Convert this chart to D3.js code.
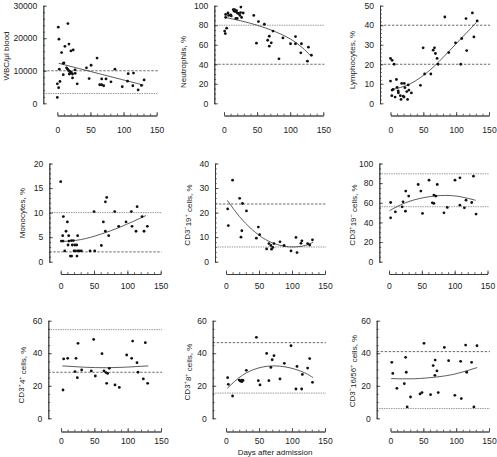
<!DOCTYPE html>
<html><head><meta charset="utf-8">
<script src="https://cdn.jsdelivr.net/npm/d3@7"></script>
<style>
body{margin:0;background:#fff}
svg text{font-family:"Liberation Sans",Arial,Helvetica,sans-serif;fill:#222}
</style>
</head><body>
<svg id="c" width="497" height="457"></svg>
<script>
// ---------- DATA ----------
const xDomain = [0, 150];
const xTicks = [0, 50, 100, 150];
const xMinorStep = 10;
const xLabel = "Days after admission";

// 1. WBC
const wbcPoints = [[1.5,23400],[2.5,19700],[16,24500],[6.5,15600],[11.5,17500],[17.6,18200],[20.6,16100],[24,16400],[9,12300],[10,12400],[3,10500],[14,10900],[15.6,10500],[17,10100],[19,9800],[20,9200],[18,9000],[9,8800],[21,9500],[23,9000],[26.7,10300],[27,9200],[23,7800],[30,6000],[4,6700],[0,6000],[2,4800],[0,1800],[44,10900],[51,11700],[48,7600],[60,13900],[67,7500],[64,5700],[67,5700],[70,5400],[73.5,7500],[81,6600],[87,10500],[98,5100],[106,6800],[107,9100],[115,9300],[114,5400],[122,4100],[127,5500],[131,7200]];
const wbcFit = [[2,12300],[65,9000],[130,5600]];
const wbcRef = [10000, 3000];
const wbcTicks = [0, 10000, 20000, 30000];

// 2. Neutrophils
const neuPoints = [[2.5,91],[2.5,88],[6,92.5],[7,90],[10,90.5],[11,89.5],[14,96],[15,94.5],[16,96],[17,94],[19,95],[18,87],[20,87],[20,92.5],[22,92],[24,90],[25.5,98.6],[26.6,88],[29,92.5],[25,93],[1,74],[2,71.4],[4,77],[45,90],[49,61.6],[52,83.7],[61,81],[66,64.6],[68.4,68.7],[68.4,58.5],[71.4,62],[74,74],[83,45.6],[89,67],[100.5,61],[108,68.4],[108,61],[117,61],[116,51.7],[127.5,57.5],[126,43.2],[132,49.3]];
const neuFit = [[2,88],[50,80],[100,66],[132,48]];
const neuRef = [80, 40];
const neuTicks = [0, 20, 40, 60, 80, 100];

// 3. Lymphocytes
const lymPoints = [[0,23],[2.5,22],[5.6,20],[0,11.4],[2.5,6.8],[4,7.1],[2,3.9],[7,3.2],[9,12.2],[10,8.2],[11.7,6.3],[12,5.4],[15,3.9],[16,2],[17,10.2],[19.5,3.6],[20.6,3.2],[21,10.2],[22,8],[24.8,6],[26,2],[27,9.4],[28,6.8],[31.8,5.3],[45.6,9.2],[49.7,28.4],[52,15],[61.4,15],[65,27.2],[67,28.4],[68.4,25.5],[71,23],[72.5,20],[82.7,44.2],[88.7,26],[99,31],[107,20],[108.5,33.2],[115,43.4],[116,27],[124.7,46.3],[127,34],[132,42.2]];
const lymFit = [[2,7],[30,10],[60,17],[90,27],[131,41.5]];
const lymRef = [40, 20];
const lymTicks = [0, 10, 20, 30, 40, 50];

// 4. Monocytes
const monPoints = [[0,16.3],[1,4.2],[3.5,4.2],[3,5.3],[4,9.2],[6,2.2],[8,6.2],[10,8.1],[11,3.4],[12,5.3],[12.4,4.2],[14.5,1.15],[16.4,1.15],[16,4.3],[17.4,3.4],[19,4.3],[20,2.2],[21,3.4],[22.4,2.2],[24,3.4],[24.4,1.15],[26,2.2],[25.4,5.3],[28.4,2.2],[31,2.2],[44,2.2],[51,2.2],[50,10.2],[61,3.3],[64,8.1],[67,12.2],[69,13.1],[67,6.2],[72,5.3],[81,10.2],[87,7.2],[98,8.1],[106,10.2],[107,7.2],[113,6.2],[114.6,11.2],[122,9.2],[125,6.2],[130,7.2]];
const monFit = [[1,4.1],[30,4.5],[60,5.6],[90,7.1],[128,9.4]];
const monRef = [10, 2];
const monTicks = [0, 5, 10, 15, 20];

// 5. CD3-19+
const b19Points = [[2.5,21.5],[3.5,14.7],[10,33.2],[20.7,25.8],[25,23.7],[24,12.6],[22.7,10],[31,20.7],[46,9.6],[49,14.1],[51,11],[61.6,5.2],[65,7.4],[68,6.6],[69,5.1],[71,5.8],[72.7,7.4],[81.8,8.1],[88,6.6],[98.5,4.4],[106,9.9],[107.6,3.7],[113.6,7.5],[115,8.5],[123.7,7.4],[126.8,6.8],[131,8.9]];
const b19Fit = [[2,25],[20,18.5],[40,13],[60,9],[80,6.8],[100,6],[120,6.6],[132,8]];
const b19Ref = [23.5, 6];
const b19Ticks = [0, 10, 20, 30, 40];

// 6. CD3+19-
const t3Points = [[2.5,60.3],[2.5,44.7],[9.7,50.8],[20,55.9],[21.4,61],[25,51.5],[25.5,71.9],[30,66.8],[44.4,78.6],[48.5,71.9],[51,49.2],[61,83],[66,60],[68.4,59.3],[68.4,67.8],[71.4,66.8],[73.5,78.6],[83.7,49.8],[88.8,55.3],[100.5,83],[108,85.4],[108,57.6],[114.8,54.9],[117.3,62.7],[126,60.3],[128.6,87.1],[132.6,48.5]];
const t3Fit = [[1,52],[25,60],[55,65.5],[85,67.5],[110,66],[132,62.5]];
const t3Ref = [89.5, 56];
const t3Ticks = [0, 20, 40, 60, 80, 100];

// 7. CD3+4+
const t4Points = [[3,17.4],[4,36.5],[10,36.9],[21,28.7],[22.5,36.9],[24.5,25],[25.5,46.1],[31,29.7],[45.5,29.1],[49,48.5],[51.5,26],[61.5,39.7],[64.5,29.1],[67.5,28.1],[68.5,21.5],[70,27.6],[72.5,30.7],[81,20.5],[87.5,19],[98.5,38.9],[106,36.9],[107.5,47.5],[114,34.2],[115.5,28.3],[123.5,24.2],[126.5,46.5],[130,21.5]];
const t4Fit = [[2,32.2],[35,31.4],[68,31.1],[100,31.5],[131,32.2]];
const t4Ref = [54.5, 28.3];
const t4Ticks = [0, 20, 40, 60];

// 8. CD3+8+
const t8Points = [[2.5,25],[3.5,20.9],[10,13.7],[20,23.5],[21.7,22.9],[23.7,23.5],[24,22.5],[25.8,23.3],[30.8,29.5],[46,49.8],[49,23.1],[51.5,20.5],[61.6,39.9],[65,23.1],[68,31.3],[70,36],[72.7,38.5],[81.8,24.2],[88.4,33.8],[98.5,44.6],[106,18],[107.6,31.9],[114.6,18],[115.7,27],[123.7,30.9],[126.8,36.7],[131,22.1]];
const t8Fit = [[2,18.5],[25,26.5],[50,31],[75,32.2],[100,30.7],[120,27.8],[132,25]];
const t8Ref = [46.5, 15.5];
const t8Ticks = [0, 20, 40, 60];

// 9. CD3-16/56+
const nkPoints = [[2,34.4],[3.5,27.6],[9.7,18.4],[21,21.3],[23,37.5],[24,28.3],[25.4,7],[30.5,13.1],[45,15],[48,15.8],[51,46.1],[61,14.5],[65,32.4],[68,35.8],[67.6,26.4],[70.7,29.1],[72.7,15.8],[82,43.6],[88.5,35.4],[98,14.1],[106.8,35],[107.8,12.1],[114.4,45],[116,28.3],[123.5,34.4],[127,7],[131.7,44.6]];
const nkFit = [[1,24.4],[35,24.3],[70,25.4],[100,27.4],[132,31.2]];
const nkRef = [41, 6];
const nkTicks = [0, 20, 40, 60];

// titles: segments [text, isSuperscript]
const titles = [
  [["WBC/μl blood",0]],
  [["Neutrophils, %",0]],
  [["Lymphocytes, %",0]],
  [["Monocytes, %",0]],
  [["CD3",0],["−",1],["19",0],["+",1],[" cells, %",0]],
  [["CD3",0],["+",1],["19",0],["−",1],[" cells, %",0]],
  [["CD3",0],["+",1],["4",0],["+",1],[" cells, %",0]],
  [["CD3",0],["+",1],["8",0],["+",1],[" cells, %",0]],
  [["CD3",0],["−",1],["16/56",0],["+",1],[" cells, %",0]]
];
const yMinorSteps = [2000, 5, 2, 1, 2, 5, 5, 5, 5];

// ---------- LAYOUT (positions) ----------
const layout = [
  {yx:43.3, x0:57.3, x1:156.7, yTop:5.7, yBot:103.3, xAxisY:115.5, xl:14, tx:6.5, ty:56, rs:["dash","dot"]},
  {yx:214.3, x0:224, x1:323.3, yTop:5.7, yBot:103.3, xAxisY:115.5, xl:14, tx:183, ty:62, rs:["dot","dash"]},
  {yx:380, x0:390.5, x1:489, yTop:5.7, yBot:103.3, xAxisY:115.5, xl:14, tx:351.7, ty:60, rs:["dash","dash"]},
  {yx:49.3, x0:60.7, x1:160.7, yTop:163.5, yBot:261.7, xAxisY:274, xl:12, tx:21.7, ty:213, rs:["dot","dash"]},
  {yx:215, x0:226, x1:325, yTop:163.5, yBot:261.7, xAxisY:274, xl:12, tx:186.7, ty:215, rs:["dash","dot"]},
  {yx:379.3, x0:389, x1:487.5, yTop:163.5, yBot:261.7, xAxisY:274, xl:12, tx:351.7, ty:215, rs:["dot","dot"]},
  {yx:48.3, x0:61, x1:161, yTop:320.7, yBot:418.3, xAxisY:431.5, xl:9.5, tx:20.7, ty:375, rs:["dot","dash"]},
  {yx:212.7, x0:226, x1:325, yTop:320.7, yBot:418.3, xAxisY:431.5, xl:9.5, tx:186.7, ty:372, rs:["dash","dot"]},
  {yx:376.7, x0:390.5, x1:489, yTop:320.7, yBot:418.3, xAxisY:431.5, xl:9.5, tx:351.7, ty:371, rs:["dash","dot"]}
];

const panels = [
  {pts:wbcPoints, fit:wbcFit, ref:wbcRef, ticks:wbcTicks},
  {pts:neuPoints, fit:neuFit, ref:neuRef, ticks:neuTicks},
  {pts:lymPoints, fit:lymFit, ref:lymRef, ticks:lymTicks},
  {pts:monPoints, fit:monFit, ref:monRef, ticks:monTicks},
  {pts:b19Points, fit:b19Fit, ref:b19Ref, ticks:b19Ticks},
  {pts:t3Points, fit:t3Fit, ref:t3Ref, ticks:t3Ticks},
  {pts:t4Points, fit:t4Fit, ref:t4Ref, ticks:t4Ticks},
  {pts:t8Points, fit:t8Fit, ref:t8Ref, ticks:t8Ticks},
  {pts:nkPoints, fit:nkFit, ref:nkRef, ticks:nkTicks}
];

const FS = 8;      // titles
const TFS = 8.6;   // tick labels
const svg = d3.select("#c");
const refStyle = {
  dash:{stroke:"#444", dash:"2.4,1.6", w:0.8},
  dot:{stroke:"#888", dash:"1.4,1", w:0.9}
};

function styleAxis(g){
  g.attr("font-size", null).attr("font-family", null);
  g.selectAll("path.domain").attr("stroke","#333").attr("stroke-width",0.8);
  g.selectAll(".tick line").attr("stroke","#333").attr("stroke-width",0.8);
  g.selectAll(".tick text").attr("font-size",TFS).attr("fill","#222");
}

panels.forEach((p,i)=>{
  const L = layout[i];
  const x = d3.scaleLinear().domain(xDomain).range([L.x0, L.x1]);
  const ymax = p.ticks[p.ticks.length-1];
  const y = d3.scaleLinear().domain([0, ymax]).range([L.yBot, L.yTop]);
  const g = svg.append("g");

  // reference lines
  g.selectAll("line.ref").data(p.ref).join("line")
    .attr("class","ref")
    .attr("x1", L.yx).attr("x2", L.x1 + 1)
    .attr("y1", d=>y(d)).attr("y2", d=>y(d))
    .attr("stroke", (d,k)=>refStyle[L.rs[k]].stroke)
    .attr("stroke-width", (d,k)=>refStyle[L.rs[k]].w)
    .attr("stroke-dasharray", (d,k)=>refStyle[L.rs[k]].dash);

  // y axis
  const minor = d3.range(0, ymax + 1e-9, yMinorSteps[i]);
  g.append("g").attr("transform",`translate(${L.yx},0)`)
    .call(d3.axisLeft(y).tickValues(minor).tickSize(-1.8).tickSizeOuter(0).tickFormat(""))
    .call(styleAxis);
  g.append("g").attr("transform",`translate(${L.yx},0)`)
    .call(d3.axisLeft(y).tickValues(p.ticks).tickSize(-3.5).tickSizeOuter(0).tickPadding(6).tickFormat(d3.format("d")))
    .call(styleAxis);

  // x axis
  const xMinor = d3.range(xDomain[0], xDomain[1] + 1e-9, xMinorStep);
  g.append("g").attr("transform",`translate(0,${L.xAxisY})`)
    .call(d3.axisBottom(x).tickValues(xMinor).tickSize(-1.8).tickSizeOuter(0).tickFormat(""))
    .call(styleAxis);
  const xa = g.append("g").attr("transform",`translate(0,${L.xAxisY})`)
    .call(d3.axisBottom(x).tickValues(xTicks).tickSize(-3.5).tickSizeOuter(0).tickFormat(d3.format("d")))
    .call(styleAxis);
  xa.selectAll(".tick text").attr("y", L.xl).attr("dy","0.35em");

  // fit curve
  g.append("path")
    .datum(p.fit)
    .attr("fill","none").attr("stroke","#333").attr("stroke-width",0.8)
    .attr("d", d3.line().x(d=>x(d[0])).y(d=>y(d[1])).curve(d3.curveNatural));

  // points
  g.selectAll("circle").data(p.pts).join("circle")
    .attr("cx", d=>x(d[0])).attr("cy", d=>y(d[1])).attr("r", 1.4).attr("fill","#111");

  // title
  const t = svg.append("text")
    .attr("transform", `translate(${L.tx},${L.ty}) rotate(-90)`)
    .attr("text-anchor","middle").attr("dy","0.35em")
    .attr("font-size", FS);
  let sup = 0;
  titles[i].forEach(([s, isSup])=>{
    const ts = t.append("tspan").text(s);
    if (isSup && !sup) { ts.attr("dy","-0.45em").attr("font-size", FS*0.7); sup = 1; }
    else if (isSup && sup) { ts.attr("font-size", FS*0.7); }
    else if (!isSup && sup) { ts.attr("dy","0.45em"); sup = 0; }
  });
});

svg.append("text").attr("x", 275).attr("y", 452).attr("text-anchor","middle")
  .attr("dy","0.35em").attr("font-size", FS).text(xLabel);
</script>
</body></html>
